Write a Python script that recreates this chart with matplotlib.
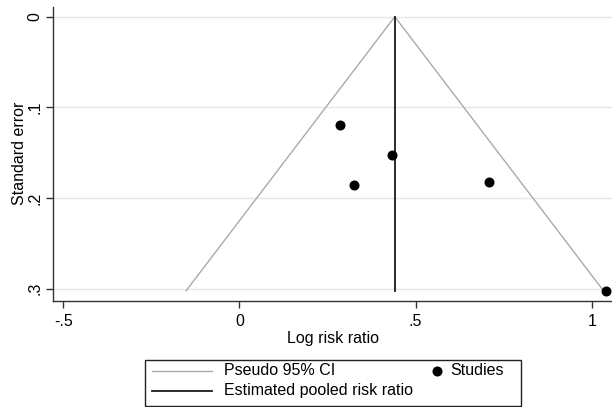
import matplotlib
matplotlib.use("Agg")
import matplotlib.pyplot as plt
from matplotlib.lines import Line2D
from matplotlib.patches import Rectangle
import numpy as np

plt.rcParams['font.family'] = ['Liberation Sans', 'DejaVu Sans']

# Data
log_rr = [0.286, 0.434, 0.325, 0.708, 1.040]
std_err = [0.1198, 0.1529, 0.1853, 0.1826, 0.3022]
pooled = 0.441
x_ticks = [-0.5, 0, 0.5, 1]
x_tick_labels = ["-.5", "0", ".5", "1"]
y_ticks = [0, 0.1, 0.2, 0.3]
y_tick_labels = ["0", ".1", ".2", ".3"]

FS = 11.5
W, H = 612, 407
fig = plt.figure(figsize=(W / 100, H / 100), dpi=100)
ax = fig.add_axes([53.3 / W, 1 - 300.5 / H, 1 - 53.3 / W, (300.5 - 7) / H])

se_max = max(std_err)
z = 1.96
ci_color = "#aaaaaa"
ax.plot([pooled - z * se_max, pooled, pooled + z * se_max], [se_max, 0, se_max],
        color=ci_color, lw=1.0, zorder=2)
ax.plot([pooled, pooled], [0, se_max], color="#1a1a1a", lw=1.3, zorder=3)
ax.plot(log_rr, std_err, "o", color="black", ms=6.2, zorder=4, clip_on=False)

ax.set_xlim(-0.5284, 1.0576)
ax.set_ylim(0.313, -0.0107)
ax.set_xticks(x_ticks)
ax.set_xticklabels(x_tick_labels, fontsize=FS)
ax.set_yticks(y_ticks)
ax.set_yticklabels(y_tick_labels, fontsize=FS, rotation=90, va="center")
ax.tick_params(axis="both", direction="out", length=5, width=1, color="#333333")
ax.tick_params(axis="x", pad=4.5)
ax.tick_params(axis="y", pad=3)
ax.grid(axis="y", color="#e6e6e6", lw=1)
ax.set_axisbelow(True)
for s in ["top", "right"]:
    ax.spines[s].set_visible(False)
for s in ["left", "bottom"]:
    ax.spines[s].set_color("#333333")
    ax.spines[s].set_linewidth(1)
ax.set_xlabel("Log risk ratio", fontsize=FS, labelpad=1.5)
ax.set_ylabel("Standard error", fontsize=FS, labelpad=0)

# Legend (manual, figure pixel coords)
def fx(px):
    return px / W

def fy(py):
    return 1 - py / H

fig.patches.append(Rectangle((fx(145), fy(405.5)), fx(521) - fx(145), fy(360) - fy(405.5),
                             transform=fig.transFigure, fill=False, edgecolor="#222222", lw=1))
fig.lines.append(Line2D([fx(152), fx(212)], [fy(370.7), fy(370.7)], transform=fig.transFigure,
                        color=ci_color, lw=1.0))
fig.lines.append(Line2D([fx(152), fx(212)], [fy(390.7), fy(390.7)], transform=fig.transFigure,
                        color="#1a1a1a", lw=1.3))
fig.text(fx(224), fy(370.7), "Pseudo 95% CI", fontsize=FS, va="center", ha="left")
fig.text(fx(224), fy(390.7), "Estimated pooled risk ratio", fontsize=FS, va="center", ha="left")
fig.lines.append(Line2D([fx(436.7)], [fy(370.7)], transform=fig.transFigure, marker="o",
                        color="black", ms=6.2, ls="none"))
fig.text(fx(450.7), fy(370.7), "Studies", fontsize=FS, va="center", ha="left")

fig.savefig("out.png", dpi=100)
